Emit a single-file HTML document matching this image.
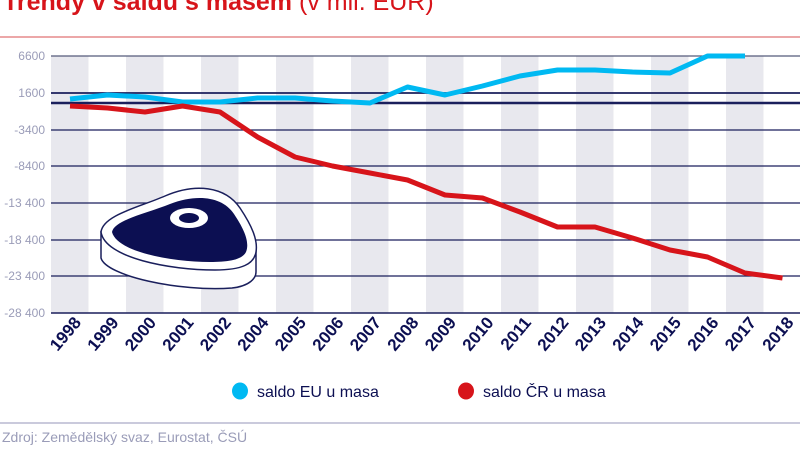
<!DOCTYPE html>
<html><head><meta charset="utf-8"><style>
body{margin:0;width:800px;height:449px;overflow:hidden;background:#fff;font-family:"Liberation Sans",sans-serif}
</style></head><body>
<svg width="800" height="449" viewBox="0 0 800 449" xmlns="http://www.w3.org/2000/svg" font-family="Liberation Sans, sans-serif">
<text x="3" y="10" font-size="25" font-weight="bold" fill="#d7141a">Trendy v saldu s masem <tspan font-weight="normal">(v mil. EUR)</tspan></text>
<line x1="0" y1="37" x2="800" y2="37" stroke="#e58a8c" stroke-width="1.5"/>
<g fill="#e8e8ee">
<rect x="51" y="56" width="37.5" height="257"/><rect x="126" y="56" width="37.5" height="257"/>
<rect x="201" y="56" width="37.5" height="257"/><rect x="276" y="56" width="37.5" height="257"/>
<rect x="351" y="56" width="37.5" height="257"/><rect x="426" y="56" width="37.5" height="257"/>
<rect x="501" y="56" width="37.5" height="257"/><rect x="576" y="56" width="37.5" height="257"/>
<rect x="651" y="56" width="37.5" height="257"/><rect x="726" y="56" width="37.5" height="257"/>
</g>
<g stroke="#1a1f5c" stroke-width="1.2">
<line x1="51" y1="56" x2="800" y2="56" stroke="#555a7a"/><line x1="51" y1="93" x2="800" y2="93" stroke-width="1.8"/>
<line x1="51" y1="130" x2="800" y2="130"/><line x1="51" y1="166" x2="800" y2="166"/>
<line x1="51" y1="203" x2="800" y2="203"/><line x1="51" y1="240" x2="800" y2="240"/>
<line x1="51" y1="276" x2="800" y2="276"/><line x1="51" y1="313" x2="800" y2="313" stroke-width="1.6"/>
<line x1="51" y1="103" x2="800" y2="103" stroke-width="2.4"/>
</g>
<g font-size="12" fill="#9a9cb8" text-anchor="end">
<text x="45" y="60">6600</text><text x="45" y="97">1600</text><text x="45" y="134">-3400</text>
<text x="45" y="170">-8400</text><text x="45" y="207">-13 400</text><text x="45" y="244">-18 400</text>
<text x="45" y="280">-23 400</text><text x="45" y="317">-28 400</text>
</g>
<polyline fill="none" stroke="#00b9f2" stroke-width="5" stroke-linejoin="round" points="70,99 107.5,95 145,97 182.5,102 220,102 257.5,98 295,98 332.5,101 370,103 407.5,87 445,95 482.5,86 520,76 557.5,70 595,70 632.5,72 670,73 707.5,56 745,56"/>
<polyline fill="none" stroke="#d7141a" stroke-width="5" stroke-linejoin="round" points="70,106 107.5,108 145,112 182.5,106 220,112 257.5,137 295,157 332.5,166 370,173 407.5,180 445,195 482.5,198 520,212 557.5,227 595,227 632.5,238 670,250 707.5,257 745,273 782.5,278"/>
<g stroke="#1a1f5c" stroke-width="1.5">
<path d="M101,232 L101,258 C106,276 180,292 232,288 C250,286 256,278 256,272 L256,250 Z" fill="#fff"/>
<path d="M101,232 C103,215 140,207 165,196 C195,183 225,186 240,208 C252,226 258,240 256,252 C254,264 242,270 215,270 C170,270 105,258 101,232 Z" fill="#fff"/>
<path d="M112,232 C114,220 148,213 170,204 C196,194 222,196 234,214 C244,229 250,242 246,252 C242,260 228,262 210,262 C172,262 117,252 112,232 Z" fill="#0c0f52" stroke="none"/>
</g>
<ellipse cx="189" cy="218" rx="19" ry="10" fill="#fff"/>
<ellipse cx="189" cy="218" rx="10" ry="5" fill="#0c0f52"/>
<g font-size="17" font-weight="bold" fill="#0c0f52" text-anchor="end">
<text transform="translate(82,323) rotate(-50)">1998</text>
<text transform="translate(119.5,323) rotate(-50)">1999</text>
<text transform="translate(157,323) rotate(-50)">2000</text>
<text transform="translate(194.5,323) rotate(-50)">2001</text>
<text transform="translate(232,323) rotate(-50)">2002</text>
<text transform="translate(269.5,323) rotate(-50)">2004</text>
<text transform="translate(307,323) rotate(-50)">2005</text>
<text transform="translate(344.5,323) rotate(-50)">2006</text>
<text transform="translate(382,323) rotate(-50)">2007</text>
<text transform="translate(419.5,323) rotate(-50)">2008</text>
<text transform="translate(457,323) rotate(-50)">2009</text>
<text transform="translate(494.5,323) rotate(-50)">2010</text>
<text transform="translate(532,323) rotate(-50)">2011</text>
<text transform="translate(569.5,323) rotate(-50)">2012</text>
<text transform="translate(607,323) rotate(-50)">2013</text>
<text transform="translate(644.5,323) rotate(-50)">2014</text>
<text transform="translate(682,323) rotate(-50)">2015</text>
<text transform="translate(719.5,323) rotate(-50)">2016</text>
<text transform="translate(757,323) rotate(-50)">2017</text>
<text transform="translate(794.5,323) rotate(-50)">2018</text>
</g>
<ellipse cx="240" cy="391" rx="8" ry="8.5" fill="#00b9f2"/>
<text x="257" y="397" font-size="16" fill="#0c0f52">saldo EU u masa</text>
<ellipse cx="466" cy="391" rx="8" ry="8.5" fill="#d7141a"/>
<text x="483" y="397" font-size="16" fill="#0c0f52">saldo ČR u masa</text>
<line x1="0" y1="423" x2="800" y2="423" stroke="#b8b8d0" stroke-width="1.5"/>
<text x="2" y="442" font-size="14" fill="#9a9cb8">Zdroj: Zemědělský svaz, Eurostat, ČSÚ</text>
</svg>
</body></html>
